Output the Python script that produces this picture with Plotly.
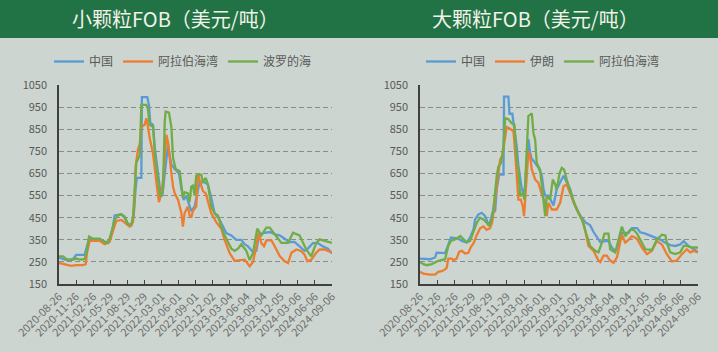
import plotly.graph_objects as go

# ---------------- data: small granule FOB (USD/t) ----------------
s_cn_dates = ["2020-08-26","2020-10-05","2020-11-09","2020-11-27","2021-01-11","2021-01-24","2021-02-04","2021-04-02","2021-05-08","2021-05-26","2021-06-13","2021-06-22","2021-07-28","2021-08-15","2021-09-02","2021-09-20","2021-10-03","2021-10-13","2021-10-20","2021-11-13","2021-11-16","2021-12-15","2021-12-24","2021-12-31","2022-01-15","2022-01-24","2022-02-11","2022-02-20","2022-03-06","2022-03-19","2022-03-28","2022-04-06","2022-04-15","2022-04-24","2022-05-12","2022-06-04","2022-06-17","2022-06-29","2022-07-13","2022-07-31","2022-08-09","2022-08-27","2022-09-14","2022-09-23","2022-10-20","2022-11-07","2022-11-25","2022-12-13","2023-01-09","2023-01-27","2023-02-14","2023-03-13","2023-04-09","2023-05-06","2023-05-24","2023-06-11","2023-07-08","2023-07-26","2023-08-09","2023-08-31","2023-10-06","2023-11-02","2023-11-29","2023-12-26","2024-01-22","2024-02-17","2024-03-15","2024-04-11","2024-04-29","2024-05-26","2024-06-22","2024-07-19","2024-08-15","2024-09-06"]
s_cn_vals = [270,258,262,282,282,320,355,350,340,345,410,460,465,450,420,415,460,580,630,630,995,995,960,880,870,770,650,590,550,650,740,780,730,690,670,650,580,530,550,500,480,500,580,610,610,600,540,470,440,410,380,370,350,350,330,320,295,300,370,380,385,375,370,355,340,340,320,300,310,335,335,320,310,288]

s_ag_dates = ["2020-08-26","2020-09-26","2020-10-31","2020-11-27","2021-01-02","2021-01-17","2021-01-24","2021-02-07","2021-04-02","2021-04-29","2021-05-26","2021-06-13","2021-07-01","2021-07-28","2021-08-24","2021-09-11","2021-09-29","2021-10-08","2021-10-13","2021-10-26","2021-11-04","2021-11-13","2021-12-01","2021-12-10","2021-12-19","2021-12-28","2022-01-15","2022-01-24","2022-02-02","2022-02-16","2022-03-01","2022-03-10","2022-03-19","2022-03-28","2022-04-06","2022-04-15","2022-04-24","2022-05-03","2022-05-12","2022-05-30","2022-06-17","2022-06-25","2022-07-04","2022-07-22","2022-07-31","2022-08-09","2022-08-18","2022-09-05","2022-09-14","2022-09-23","2022-10-02","2022-10-11","2022-10-26","2022-11-07","2022-11-25","2022-12-22","2023-01-18","2023-02-05","2023-03-04","2023-03-31","2023-04-27","2023-05-24","2023-06-20","2023-07-08","2023-07-26","2023-08-07","2023-08-22","2023-09-05","2023-09-18","2023-10-15","2023-11-02","2023-11-29","2023-12-26","2024-01-13","2024-01-31","2024-02-27","2024-03-25","2024-04-11","2024-04-26","2024-05-17","2024-06-13","2024-07-01","2024-07-28","2024-08-24","2024-09-06"]
s_ag_vals = [245,238,232,235,235,240,290,345,345,330,340,390,435,440,420,410,430,540,680,760,780,860,870,900,860,810,740,660,610,520,560,620,720,825,790,700,650,590,560,530,470,410,470,500,460,450,480,500,650,620,590,570,560,520,470,430,400,350,290,255,258,260,230,250,321,382,336,321,347,347,321,276,253,245,291,306,298,283,253,260,291,306,306,298,291]

s_bs_dates = ["2020-08-26","2020-09-17","2020-10-05","2020-10-31","2020-11-27","2020-12-15","2021-01-11","2021-01-24","2021-02-04","2021-02-25","2021-04-02","2021-04-29","2021-05-17","2021-06-04","2021-06-22","2021-07-10","2021-07-28","2021-08-15","2021-09-02","2021-09-20","2021-09-29","2021-10-08","2021-10-17","2021-11-04","2021-11-13","2021-12-10","2021-12-19","2021-12-28","2022-01-15","2022-01-27","2022-02-11","2022-02-20","2022-03-01","2022-03-10","2022-03-19","2022-03-24","2022-04-11","2022-04-24","2022-05-03","2022-05-17","2022-06-08","2022-06-17","2022-06-25","2022-07-04","2022-07-22","2022-07-31","2022-08-09","2022-08-18","2022-08-27","2022-09-05","2022-10-02","2022-10-11","2022-10-26","2022-11-07","2022-11-25","2022-12-13","2022-12-31","2023-01-18","2023-02-05","2023-02-23","2023-03-13","2023-03-31","2023-04-18","2023-05-06","2023-06-02","2023-06-20","2023-07-08","2023-07-31","2023-08-22","2023-09-18","2023-10-06","2023-11-02","2023-12-08","2024-01-13","2024-02-09","2024-03-15","2024-04-20","2024-05-17","2024-06-13","2024-07-01","2024-08-06","2024-09-06"]
s_bs_vals = [275,275,262,258,265,260,262,300,365,355,355,340,335,380,440,460,465,455,420,420,450,600,700,730,960,960,940,870,860,720,620,560,545,580,880,930,925,860,720,670,660,580,540,565,560,520,590,595,550,640,645,610,630,600,500,470,460,410,370,340,310,300,310,330,300,258,290,400,370,405,405,375,336,336,382,370,306,275,336,352,345,336]

# ---------------- data: large granule FOB (USD/t) ----------------
l_cn_dates = ["2020-08-26","2020-09-22","2020-10-18","2020-11-14","2020-11-22","2021-01-06","2021-01-14","2021-01-23","2021-02-06","2021-03-17","2021-04-04","2021-04-30","2021-05-18","2021-06-05","2021-06-14","2021-07-01","2021-07-19","2021-08-06","2021-08-23","2021-09-01","2021-09-13","2021-09-28","2021-10-06","2021-10-19","2021-11-11","2021-11-14","2021-12-07","2021-12-13","2021-12-28","2022-01-06","2022-01-20","2022-01-29","2022-02-07","2022-02-16","2022-02-25","2022-03-06","2022-03-14","2022-03-23","2022-04-01","2022-04-10","2022-04-19","2022-05-06","2022-05-15","2022-06-02","2022-06-11","2022-06-20","2022-07-07","2022-07-16","2022-08-03","2022-08-20","2022-09-07","2022-09-25","2022-10-12","2022-10-30","2022-11-17","2022-12-04","2022-12-22","2023-01-18","2023-02-13","2023-03-03","2023-03-20","2023-04-07","2023-05-04","2023-05-21","2023-06-08","2023-06-26","2023-07-13","2023-07-31","2023-09-04","2023-09-22","2023-10-19","2023-11-05","2023-12-02","2023-12-28","2024-01-24","2024-02-19","2024-03-17","2024-04-12","2024-05-09","2024-06-04","2024-06-22","2024-07-18","2024-08-14","2024-09-06"]
l_cn_vals = [265,262,262,270,292,290,307,327,360,355,345,338,360,397,442,465,472,457,420,430,470,480,577,645,645,997,997,920,920,860,775,685,625,580,557,595,715,805,745,715,707,685,677,640,580,550,550,535,505,580,610,640,610,580,520,490,460,430,415,385,362,340,344,344,315,300,322,381,381,403,403,384,378,369,359,351,337,326,322,329,344,322,307,295]

l_ir_dates = ["2020-08-26","2020-09-13","2020-10-18","2020-11-14","2020-12-01","2020-12-19","2021-01-06","2021-01-14","2021-01-23","2021-02-10","2021-02-19","2021-03-08","2021-03-21","2021-04-04","2021-04-22","2021-05-09","2021-05-23","2021-06-05","2021-06-23","2021-07-10","2021-07-28","2021-08-14","2021-09-01","2021-09-13","2021-09-28","2021-10-10","2021-10-24","2021-11-05","2021-11-20","2021-11-28","2021-12-16","2022-01-03","2022-01-12","2022-01-20","2022-01-29","2022-02-11","2022-02-21","2022-02-28","2022-03-14","2022-03-23","2022-04-01","2022-04-10","2022-04-28","2022-05-15","2022-06-02","2022-06-20","2022-06-28","2022-07-07","2022-07-25","2022-08-20","2022-09-07","2022-09-25","2022-10-12","2022-10-30","2022-11-26","2022-12-22","2023-01-09","2023-02-04","2023-03-03","2023-03-12","2023-03-29","2023-04-07","2023-04-25","2023-05-12","2023-05-30","2023-06-17","2023-07-05","2023-07-31","2023-08-18","2023-09-04","2023-09-22","2023-10-19","2023-11-14","2023-12-11","2024-01-06","2024-02-01","2024-02-28","2024-03-25","2024-04-21","2024-05-17","2024-06-13","2024-07-09","2024-07-27","2024-08-14","2024-09-06"]
l_ir_vals = [205,197,192,192,205,208,216,223,265,265,258,265,295,300,288,291,318,333,372,402,410,395,402,432,537,627,710,732,815,860,852,840,742,637,532,532,502,457,667,750,727,667,622,607,555,517,457,517,487,487,517,592,600,562,502,457,427,322,300,285,256,249,278,278,256,246,271,373,337,349,366,355,315,285,300,344,329,285,252,256,285,307,293,300,293]

l_ag_dates = ["2020-08-26","2020-09-13","2020-09-30","2020-10-27","2020-12-01","2020-12-19","2021-01-06","2021-01-14","2021-01-23","2021-02-06","2021-03-08","2021-03-27","2021-04-14","2021-04-30","2021-05-18","2021-06-05","2021-06-23","2021-07-10","2021-07-28","2021-08-14","2021-08-27","2021-09-10","2021-09-22","2021-10-06","2021-10-15","2021-10-29","2021-11-11","2021-11-20","2021-12-07","2021-12-25","2022-01-08","2022-01-20","2022-01-29","2022-02-07","2022-02-21","2022-03-02","2022-03-14","2022-03-23","2022-04-10","2022-04-19","2022-04-28","2022-05-06","2022-05-24","2022-06-07","2022-06-20","2022-06-28","2022-07-16","2022-07-30","2022-08-12","2022-08-20","2022-09-04","2022-09-16","2022-09-28","2022-10-12","2022-11-08","2022-12-04","2022-12-31","2023-01-27","2023-02-13","2023-03-12","2023-03-29","2023-04-16","2023-04-30","2023-05-21","2023-05-30","2023-06-26","2023-07-13","2023-07-31","2023-08-18","2023-09-13","2023-10-01","2023-10-19","2023-11-05","2023-12-02","2024-01-06","2024-02-01","2024-02-28","2024-03-17","2024-03-25","2024-04-12","2024-05-09","2024-06-04","2024-06-22","2024-07-09","2024-08-05","2024-09-06"]
l_ag_vals = [250,240,235,240,255,258,262,292,322,345,355,367,352,338,345,390,427,450,442,427,412,442,517,637,682,697,772,900,895,877,870,712,667,547,562,532,765,910,922,832,802,697,667,547,457,547,532,622,600,577,652,675,667,622,547,487,442,367,322,300,293,337,378,378,307,293,351,410,366,395,395,378,351,307,304,351,373,370,337,293,285,293,322,322,315,315]

tick_dates = ["2020-08-26","2020-11-26","2021-02-26","2021-05-29","2021-08-29","2021-11-29","2022-03-01","2022-06-01","2022-09-01","2022-12-02","2023-03-04","2023-06-04","2023-09-04","2023-12-05","2024-03-06","2024-06-06","2024-09-06"]
y_ticks = [150, 250, 350, 450, 550, 650, 750, 850, 950, 1050]

titles = ["小颗粒FOB（美元/吨）", "大颗粒FOB（美元/吨）"]

BLUE, ORANGE, GREEN = "#5B9BD5", "#ED7D31", "#70AD47"
BG = "#CDD5D0"
FONT = "Noto Sans CJK SC"

fig = go.Figure()
left = [("中国", s_cn_dates, s_cn_vals, BLUE),
        ("阿拉伯海湾", s_ag_dates, s_ag_vals, ORANGE),
        ("波罗的海", s_bs_dates, s_bs_vals, GREEN)]
right = [("中国", l_cn_dates, l_cn_vals, BLUE),
         ("伊朗", l_ir_dates, l_ir_vals, ORANGE),
         ("阿拉伯海湾", l_ag_dates, l_ag_vals, GREEN)]
for name, d, v, c in left:
    fig.add_trace(go.Scatter(x=d, y=v, name=name, mode="lines",
                             line=dict(color=c, width=2.3), xaxis="x", yaxis="y",
                             legend="legend"))
for name, d, v, c in right:
    fig.add_trace(go.Scatter(x=d, y=v, name=name, mode="lines",
                             line=dict(color=c, width=2.3), xaxis="x2", yaxis="y2",
                             legend="legend2"))

ydom = [1 - 284/352, 1 - 85/352]
xcommon = dict(type="date", range=["2020-08-26", "2024-09-06"],
               tickmode="array", tickvals=tick_dates, ticktext=tick_dates,
               tickangle=-45, ticks="inside", ticklen=4, tickcolor="#404040",
               tickfont=dict(family=FONT, size=11, color="#6E6E6E"),
               showline=True, linecolor="#404040", linewidth=1.5,
               showgrid=False, zeroline=False, automargin=False)
ycommon = dict(range=[150, 1050], tickmode="array", tickvals=y_ticks,
               tickfont=dict(family=FONT, size=11, color="#595959"),
               showline=True, linecolor="#404040", linewidth=1.5,
               showgrid=True, gridcolor="#8C8C8C", gridwidth=1, griddash="5px,3px",
               zeroline=False, ticks="", ticklabelstandoff=8, automargin=False)

legfont = dict(family=FONT, size=12, color="#595959")
fig.update_layout(
    width=718, height=352,
    margin=dict(l=0, r=0, t=0, b=0, autoexpand=False),
    paper_bgcolor=BG, plot_bgcolor=BG,
    xaxis=dict(domain=[59/718, 332/718], anchor="y", **xcommon),
    yaxis=dict(domain=ydom, anchor="x", **ycommon),
    xaxis2=dict(domain=[420/718, 698/718], anchor="y2", **xcommon),
    yaxis2=dict(domain=ydom, anchor="x2", **ycommon),
    legend=dict(orientation="h", x=49/718, y=1 - 47/352, xanchor="left", yanchor="top",
                font=legfont, bgcolor="rgba(0,0,0,0)", itemwidth=30,
                tracegroupgap=0),
    legend2=dict(orientation="h", x=421/718, y=1 - 47/352, xanchor="left", yanchor="top",
                 font=legfont, bgcolor="rgba(0,0,0,0)", itemwidth=30,
                 tracegroupgap=0),
    shapes=[dict(type="rect", xref="paper", yref="paper", x0=0, x1=1,
                 y0=1 - 38/352, y1=1, fillcolor="#217346", line=dict(width=0),
                 layer="below")],
    annotations=[
        dict(text=titles[0], xref="paper", yref="paper", x=175/718, y=1 - 19/352,
             showarrow=False, xanchor="center", yanchor="middle",
             font=dict(family=FONT, size=20, color="#F2F2E8")),
        dict(text=titles[1], xref="paper", yref="paper", x=535/718, y=1 - 19/352,
             showarrow=False, xanchor="center", yanchor="middle",
             font=dict(family=FONT, size=20, color="#F2F2E8")),
    ],
)

fig.write_html("out.html")
